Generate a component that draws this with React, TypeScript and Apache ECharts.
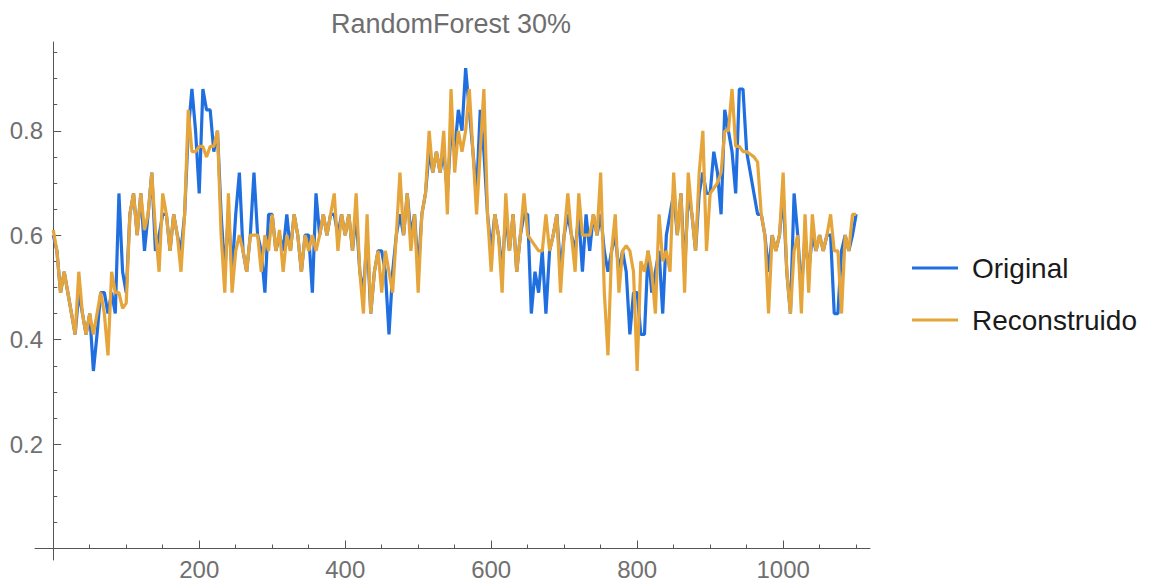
import React, { useEffect, useRef } from "react";
import * as echarts from "echarts";

// x positions: one sample every X_STEP units, starting at 0
const X_STEP = 5;

const original = [
  0.60, 0.57, 0.49, 0.53, 0.49, 0.45, 0.41, 0.49, 0.45, 0.41,
  0.45, 0.34, 0.41, 0.49, 0.49, 0.45, 0.49, 0.45, 0.68, 0.53,
  0.49, 0.64, 0.68, 0.60, 0.68, 0.57, 0.64, 0.72, 0.57, 0.60,
  0.64, 0.64, 0.57, 0.64, 0.60, 0.57, 0.64, 0.80, 0.88, 0.80,
  0.68, 0.88, 0.84, 0.84, 0.76, 0.80, 0.64, 0.53, 0.64, 0.53,
  0.64, 0.72, 0.57, 0.53, 0.60, 0.72, 0.60, 0.57, 0.49, 0.64,
  0.64, 0.57, 0.60, 0.57, 0.64, 0.57, 0.64, 0.60, 0.53, 0.60,
  0.60, 0.49, 0.68, 0.60, 0.64, 0.60, 0.64, 0.64, 0.60, 0.64,
  0.60, 0.64, 0.57, 0.64, 0.53, 0.49, 0.60, 0.45, 0.53, 0.57,
  0.57, 0.53, 0.41, 0.53, 0.60, 0.64, 0.60, 0.68, 0.60, 0.64,
  0.53, 0.64, 0.68, 0.76, 0.72, 0.76, 0.72, 0.76, 0.68, 0.80,
  0.76, 0.84, 0.80, 0.92, 0.84, 0.76, 0.68, 0.84, 0.76, 0.64,
  0.57, 0.64, 0.60, 0.53, 0.64, 0.57, 0.64, 0.53, 0.60, 0.64,
  0.64, 0.45, 0.53, 0.49, 0.57, 0.45, 0.57, 0.60, 0.64, 0.53,
  0.60, 0.64, 0.60, 0.57, 0.64, 0.53, 0.64, 0.57, 0.64, 0.60,
  0.64, 0.57, 0.53, 0.57, 0.60, 0.53, 0.57, 0.53, 0.41, 0.49,
  0.49, 0.41, 0.41, 0.57, 0.49, 0.53, 0.57, 0.45, 0.60, 0.64,
  0.68, 0.60, 0.68, 0.53, 0.68, 0.64, 0.57, 0.68, 0.72, 0.68,
  0.68, 0.76, 0.72, 0.64, 0.84, 0.80, 0.76, 0.68, 0.88, 0.88,
  0.76, 0.72, 0.68, 0.64, 0.64, 0.60, 0.53, 0.60, 0.57, 0.60,
  0.68, 0.53, 0.45, 0.68, 0.60, 0.49, 0.60, 0.53, 0.60, 0.57,
  0.60, 0.57, 0.60, 0.60, 0.45, 0.45, 0.57, 0.60, 0.57, 0.60,
  0.64,
];

const reconstruido = [
  0.61, 0.57, 0.49, 0.53, 0.49, 0.45, 0.41, 0.53, 0.45, 0.41,
  0.45, 0.41, 0.45, 0.49, 0.45, 0.37, 0.53, 0.49, 0.49, 0.46,
  0.47, 0.64, 0.68, 0.60, 0.68, 0.61, 0.64, 0.72, 0.61, 0.53,
  0.68, 0.64, 0.57, 0.64, 0.60, 0.53, 0.64, 0.84, 0.76, 0.76,
  0.77, 0.77, 0.75, 0.77, 0.77, 0.80, 0.60, 0.49, 0.68, 0.49,
  0.57, 0.60, 0.57, 0.53, 0.60, 0.60, 0.60, 0.53, 0.60, 0.57,
  0.64, 0.57, 0.61, 0.53, 0.60, 0.57, 0.64, 0.60, 0.53, 0.60,
  0.57, 0.60, 0.57, 0.60, 0.64, 0.60, 0.64, 0.68, 0.57, 0.64,
  0.60, 0.64, 0.57, 0.68, 0.53, 0.45, 0.64, 0.45, 0.53, 0.57,
  0.49, 0.57, 0.53, 0.49, 0.60, 0.72, 0.60, 0.68, 0.57, 0.64,
  0.49, 0.64, 0.68, 0.80, 0.72, 0.76, 0.72, 0.80, 0.64, 0.88,
  0.72, 0.80, 0.76, 0.80, 0.88, 0.76, 0.64, 0.76, 0.88, 0.64,
  0.53, 0.64, 0.60, 0.49, 0.68, 0.57, 0.64, 0.53, 0.60, 0.68,
  0.60, 0.59, 0.58, 0.57, 0.57, 0.64, 0.57, 0.60, 0.64, 0.49,
  0.60, 0.68, 0.60, 0.53, 0.68, 0.60, 0.60, 0.60, 0.64, 0.60,
  0.72, 0.49, 0.37, 0.57, 0.64, 0.49, 0.57, 0.58, 0.57, 0.53,
  0.34, 0.55, 0.53, 0.57, 0.53, 0.45, 0.64, 0.55, 0.57, 0.53,
  0.72, 0.60, 0.68, 0.49, 0.72, 0.64, 0.57, 0.72, 0.80, 0.57,
  0.68, 0.69, 0.70, 0.72, 0.80, 0.80, 0.88, 0.77, 0.77, 0.76,
  0.76, 0.755, 0.75, 0.74, 0.64, 0.60, 0.45, 0.60, 0.57, 0.60,
  0.72, 0.53, 0.45, 0.57, 0.60, 0.45, 0.64, 0.49, 0.64, 0.57,
  0.60, 0.57, 0.60, 0.64, 0.57, 0.57, 0.45, 0.60, 0.57, 0.64,
  0.64,
];

const xTickLabels = [200, 400, 600, 800, 1000];
const xMinorTicks = [50, 100, 150, 250, 300, 350, 450, 500, 550, 650, 700, 750, 850, 900, 950, 1050, 1100];
const yTickLabels = [0.2, 0.4, 0.6, 0.8];
const yMinorTicks = [0.05, 0.1, 0.15, 0.25, 0.3, 0.35, 0.45, 0.5, 0.55, 0.65, 0.7, 0.75, 0.85, 0.9, 0.95];

const BLUE = "#1f6fe0";
const ORANGE = "#e6a53a";
const AXIS_COLOR = "#555555";
const LABEL_COLOR = "#707070";
const FONT = "'Liberation Sans', Arial, sans-serif";

export default function App() {
  const ref = useRef<HTMLDivElement>(null);

  useEffect(() => {
    if (!ref.current) return;
    const chart = echarts.init(ref.current, undefined, { renderer: "svg" });
    const toPoints = (arr: number[]) => arr.map((v, i) => [i * X_STEP, v]);
    const axisLineStyle = { color: AXIS_COLOR, width: 1 };

    chart.setOption({
      animation: false,
      backgroundColor: "#ffffff",
      color: [BLUE, ORANGE],
      title: {
        text: "RandomForest 30%",
        left: 446,
        top: 5,
        textAlign: "center",
        textStyle: { fontFamily: FONT, fontSize: 27, fontWeight: "normal", color: "#6e6e6e" },
      },
      legend: {
        orient: "vertical",
        left: 907,
        top: 248,
        icon: "rect",
        itemWidth: 46,
        itemHeight: 3,
        itemGap: 22,
        data: ["Original", "Reconstruido"],
        textStyle: { fontFamily: FONT, fontSize: 28, color: "#1a1a1a", lineHeight: 30, padding: [0, 0, 0, 9] },
      },
      grid: { left: 35, right: 297, top: 42, bottom: 22, outerBoundsMode: "none", containLabel: false },
      xAxis: [
        {
          type: "value",
          min: -25,
          max: 1119,
          position: "bottom",
          axisLine: { show: true, onZero: true, onZeroAxisIndex: 0, lineStyle: axisLineStyle },
          axisTick: { show: true, inside: true, length: 8, customValues: xTickLabels, lineStyle: axisLineStyle },
          axisLabel: {
            show: true,
            customValues: xTickLabels,
            formatter: (v: number) => String(v),
            margin: -1,
            fontSize: 24,
            lineHeight: 20,
            fontFamily: FONT,
            color: LABEL_COLOR,
          },
          splitLine: { show: false },
        },
        {
          type: "value",
          min: -25,
          max: 1119,
          position: "bottom",
          axisLine: { show: false, onZero: true, onZeroAxisIndex: 0 },
          axisTick: { show: true, inside: true, length: 4, customValues: xMinorTicks, lineStyle: axisLineStyle },
          axisLabel: { show: false },
          splitLine: { show: false },
        },
      ],
      yAxis: [
        {
          type: "value",
          min: -0.022,
          max: 0.97,
          position: "left",
          axisLine: { show: true, onZero: true, onZeroAxisIndex: 0, lineStyle: axisLineStyle },
          axisTick: { show: true, inside: true, length: 8, customValues: yTickLabels, lineStyle: axisLineStyle },
          axisLabel: {
            show: true,
            customValues: yTickLabels,
            formatter: (v: number) => v.toFixed(1),
            margin: -8,
            fontSize: 24,
            fontFamily: FONT,
            color: LABEL_COLOR,
          },
          splitLine: { show: false },
        },
        {
          type: "value",
          min: -0.022,
          max: 0.97,
          position: "left",
          axisLine: { show: false, onZero: true, onZeroAxisIndex: 0 },
          axisTick: { show: true, inside: true, length: 4, customValues: yMinorTicks, lineStyle: axisLineStyle },
          axisLabel: { show: false },
          splitLine: { show: false },
        },
      ],
      series: [
        {
          name: "Original",
          type: "line",
          xAxisIndex: 0,
          yAxisIndex: 0,
          data: toPoints(original),
          showSymbol: false,
          symbol: "none",
          lineStyle: { color: BLUE, width: 3.2 },
          itemStyle: { color: BLUE },
        },
        {
          name: "Reconstruido",
          type: "line",
          xAxisIndex: 0,
          yAxisIndex: 0,
          data: toPoints(reconstruido),
          showSymbol: false,
          symbol: "none",
          lineStyle: { color: ORANGE, width: 3.2 },
          itemStyle: { color: ORANGE },
        },
      ],
    });

    return () => chart.dispose();
  }, []);

  return (
    <div
      ref={ref}
      style={{ position: "fixed", left: 0, top: 0, width: 1167, height: 582, background: "#fff" }}
    />
  );
}
